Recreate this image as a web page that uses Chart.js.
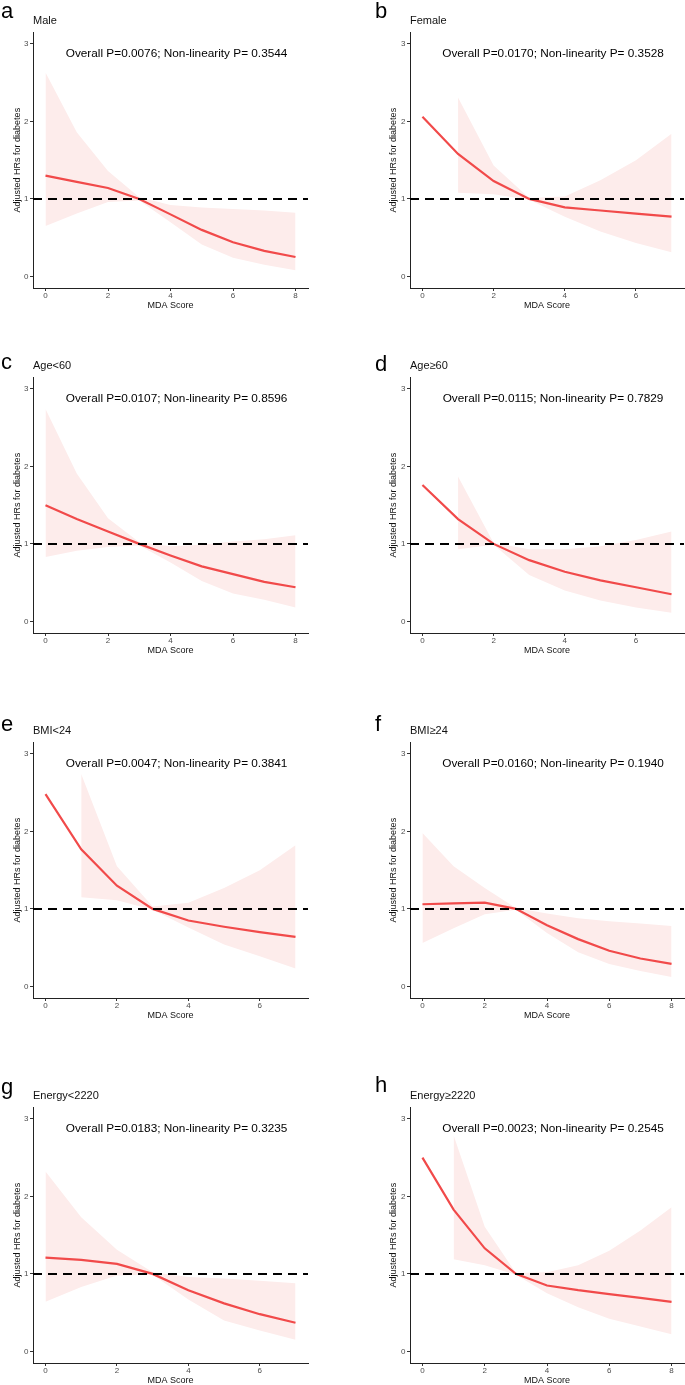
<!DOCTYPE html>
<html>
<head>
<meta charset="utf-8">
<script src="https://cdn.jsdelivr.net/npm/chart.js@4.4.1/dist/chart.umd.min.js"></script>
<style>
  body { margin: 0; background: #fff; }
  #page { position: relative; width: 685px; height: 1385px; overflow: hidden; font-family: "Liberation Sans", Arial, sans-serif; }
  #page canvas { position: absolute; }
  .tag { position: absolute; font-size: 22px; line-height: 22px; color: #000; will-change: transform; }
  .sub { position: absolute; font-size: 11px; line-height: 11px; color: #111; white-space: nowrap; will-change: transform; }
</style>
</head>
<body>
<div id="page"></div>
<script>
/* ---------- data ---------- */
const scores8 = [0, 1, 2, 3, 4, 5, 6, 7, 8];
const scores7 = [0, 1, 2, 3, 4, 5, 6, 7];
const ticks8 = [0, 2, 4, 6, 8];
const ticks7 = [0, 2, 4, 6];
const hrTicks = [0, 1, 2, 3];
const REF_HR = 1;

const maleHR    = [1.30, 1.22, 1.14, 1.00, 0.80, 0.60, 0.44, 0.33, 0.25];
const maleLower = [0.65, 0.81, 0.96, 0.98, 0.70, 0.41, 0.24, 0.15, 0.08];
const maleUpper = [2.63, 1.86, 1.36, 1.02, 0.92, 0.89, 0.87, 0.85, 0.82];

const femaleHR    = [2.06, 1.58, 1.23, 1.00, 0.89, 0.85, 0.81, 0.77];
const femaleLower = [null, 1.08, 1.06, 0.99, 0.77, 0.58, 0.43, 0.31];
const femaleUpper = [null, 2.31, 1.43, 1.01, 1.03, 1.24, 1.50, 1.84];

const ageLoHR    = [1.50, 1.32, 1.16, 1.00, 0.85, 0.71, 0.61, 0.51, 0.44];
const ageLoLower = [0.83, 0.91, 0.96, 0.98, 0.76, 0.52, 0.36, 0.28, 0.18];
const ageLoUpper = [2.74, 1.91, 1.33, 1.02, 0.97, 0.99, 1.03, 1.06, 1.11];

const ageHiHR    = [1.76, 1.32, 1.00, 0.79, 0.64, 0.53, 0.44, 0.35];
const ageHiLower = [null, 0.93, 0.99, 0.60, 0.40, 0.27, 0.18, 0.11];
const ageHiUpper = [null, 1.87, 1.01, 0.93, 0.93, 0.97, 1.05, 1.16];

const bmiLoHR    = [2.48, 1.77, 1.30, 1.00, 0.85, 0.77, 0.70, 0.64];
const bmiLoLower = [null, 1.15, 1.11, 0.99, 0.76, 0.54, 0.39, 0.23];
const bmiLoUpper = [null, 2.74, 1.55, 1.03, 1.08, 1.27, 1.50, 1.82];

const bmiHiHR    = [1.06, 1.07, 1.08, 1.00, 0.79, 0.61, 0.46, 0.36, 0.29];
const bmiHiLower = [0.56, 0.75, 0.93, 0.99, 0.69, 0.44, 0.29, 0.20, 0.12];
const bmiHiUpper = [1.98, 1.55, 1.27, 1.01, 0.94, 0.88, 0.84, 0.81, 0.78];

const enLoHR    = [1.21, 1.18, 1.13, 1.00, 0.79, 0.62, 0.48, 0.37];
const enLoLower = [0.64, 0.83, 0.98, 0.99, 0.67, 0.40, 0.27, 0.15];
const enLoUpper = [2.32, 1.73, 1.31, 1.02, 0.96, 0.94, 0.91, 0.88];

const enHiHR    = [2.50, 1.83, 1.33, 1.00, 0.85, 0.79, 0.74, 0.69, 0.64];
const enHiLower = [null, 1.19, 1.11, 0.99, 0.75, 0.57, 0.42, 0.32, 0.22];
const enHiUpper = [null, 2.79, 1.61, 1.01, 1.02, 1.11, 1.30, 1.56, 1.86];

const panelTags   = ["a", "b", "c", "d", "e", "f", "g", "h"];
const panelTitles = ["Male", "Female", "Age<60", "Age≥60", "BMI<24", "BMI≥24", "Energy<2220", "Energy≥2220"];
const overallP    = ["0.0076", "0.0170", "0.0107", "0.0115", "0.0047", "0.0160", "0.0183", "0.0023"];
const nonlinP     = ["0.3544", "0.3528", "0.8596", "0.7829", "0.3841", "0.1940", "0.3235", "0.2545"];

const panels = [
  { x: scores8, ticks: ticks8, hr: maleHR,   lo: maleLower,   up: maleUpper },
  { x: scores7, ticks: ticks7, hr: femaleHR, lo: femaleLower, up: femaleUpper },
  { x: scores8, ticks: ticks8, hr: ageLoHR,  lo: ageLoLower,  up: ageLoUpper },
  { x: scores7, ticks: ticks7, hr: ageHiHR,  lo: ageHiLower,  up: ageHiUpper },
  { x: scores7, ticks: ticks7, hr: bmiLoHR,  lo: bmiLoLower,  up: bmiLoUpper },
  { x: scores8, ticks: ticks8, hr: bmiHiHR,  lo: bmiHiLower,  up: bmiHiUpper },
  { x: scores7, ticks: ticks7, hr: enLoHR,   lo: enLoLower,   up: enLoUpper },
  { x: scores8, ticks: ticks8, hr: enHiHR,   lo: enHiLower,   up: enHiUpper }
];

/* ---------- layout ---------- */
const FONT = '"Liberation Sans", Arial, sans-serif';
const RED = "#F14A4A";
const BAND = "#FDECEB";
const COLS = [
  { left: 0,   width: 315, axisW: 33, padRight: 7, tagX: 1 },
  { left: 376, width: 309, axisW: 34, padRight: 1, tagX: 375 }
];
const ROW_TOP = [32, 377, 742, 1107];
const TAG_BASE = [18.3, 18.3, 370, 371.7, 731.7, 731.7, 1095, 1093];
const PLOT_H = 256, PAD_TOP = 6, X_AXIS_H = 24;

Chart.defaults.font.family = FONT;

const refLine = {
  id: "refLine",
  afterDatasetsDraw(chart) {
    const { ctx, chartArea: a, scales: { y } } = chart;
    const py = y.getPixelForValue(REF_HR);
    ctx.save();
    ctx.strokeStyle = "#000";
    ctx.lineWidth = 2;
    ctx.setLineDash([9, 6]);
    ctx.beginPath();
    ctx.moveTo(a.left, py);
    ctx.lineTo(a.right, py);
    ctx.stroke();
    ctx.restore();
  }
};

const pText = {
  id: "pText",
  afterDraw(chart, args, opts) {
    const { ctx, chartArea: a } = chart;
    ctx.save();
    ctx.font = `11.8px ${FONT}`;
    ctx.fillStyle = "#000";
    ctx.textAlign = "center";
    ctx.textBaseline = "alphabetic";
    ctx.fillText(opts.text, a.left + a.width * 0.522, a.top + 24.7);
    ctx.restore();
  }
};

const toPts = (xs, ys) => xs.map((x, i) => ({ x, y: ys[i] })).filter(p => p.y !== null);

const page = document.getElementById("page");

panels.forEach((p, i) => {
  const col = COLS[i % 2];
  const plotTop = ROW_TOP[Math.floor(i / 2)];
  const xMax = p.x[p.x.length - 1];

  const tag = document.createElement("div");
  tag.className = "tag";
  tag.textContent = panelTags[i];
  tag.style.left = col.tagX + "px";
  tag.style.top = (TAG_BASE[i] - 18.6) + "px";
  page.appendChild(tag);

  const sub = document.createElement("div");
  sub.className = "sub";
  sub.textContent = panelTitles[i];
  sub.style.left = (col.left + col.axisW) + "px";
  sub.style.top = (plotTop - 17) + "px";
  page.appendChild(sub);

  const canvas = document.createElement("canvas");
  const h = PAD_TOP + PLOT_H + X_AXIS_H;
  canvas.width = col.width;
  canvas.height = h;
  canvas.style.left = col.left + "px";
  canvas.style.top = (plotTop - PAD_TOP) + "px";
  canvas.style.width = col.width + "px";
  canvas.style.height = h + "px";
  page.appendChild(canvas);

  new Chart(canvas, {
    type: "line",
    data: {
      datasets: [
        { data: toPts(p.x, p.hr), borderColor: RED, borderWidth: 2.2, pointRadius: 0, fill: false, tension: 0 },
        { data: toPts(p.x, p.up), borderWidth: 0, borderColor: "transparent", pointRadius: 0, backgroundColor: BAND, fill: "+1" },
        { data: toPts(p.x, p.lo), borderWidth: 0, borderColor: "transparent", pointRadius: 0, fill: false }
      ]
    },
    options: {
      responsive: false,
      animation: false,
      devicePixelRatio: 1,
      layout: { padding: { top: PAD_TOP, right: col.padRight, left: 0, bottom: 0 } },
      plugins: {
        legend: { display: false },
        tooltip: { enabled: false },
        pText: { text: `Overall P=${overallP[i]}; Non-linearity P= ${nonlinP[i]}` }
      },
      scales: {
        x: {
          type: "linear",
          min: -0.05 * xMax,
          max: 1.05 * xMax,
          afterBuildTicks: s => { s.ticks = p.ticks.map(v => ({ value: v })); },
          afterFit: s => { s.height = X_AXIS_H; },
          grid: { drawOnChartArea: false, tickLength: 3, color: "#333" },
          border: { display: true, color: "#222", width: 1 },
          ticks: { padding: 0, color: "#4d4d4d", font: { size: 8 }, callback: v => String(v) },
          title: { display: true, text: "MDA Score", color: "#111", font: { size: 9 }, padding: { top: 0, bottom: 1.5 } }
        },
        y: {
          min: -0.15,
          max: 3.15,
          afterBuildTicks: s => { s.ticks = hrTicks.map(v => ({ value: v })); },
          afterFit: s => { s.width = col.axisW; },
          grid: { drawOnChartArea: false, tickLength: 3, color: "#333" },
          border: { display: true, color: "#222", width: 1 },
          ticks: { padding: 1.5, color: "#4d4d4d", font: { size: 8 }, callback: v => String(v) },
          title: { display: true, text: "Adjusted HRs for diabetes", color: "#111", font: { size: 9 }, padding: { top: 12.5, bottom: 0 } }
        }
      }
    },
    plugins: [refLine, pText]
  });
});
</script>
</body>
</html>
